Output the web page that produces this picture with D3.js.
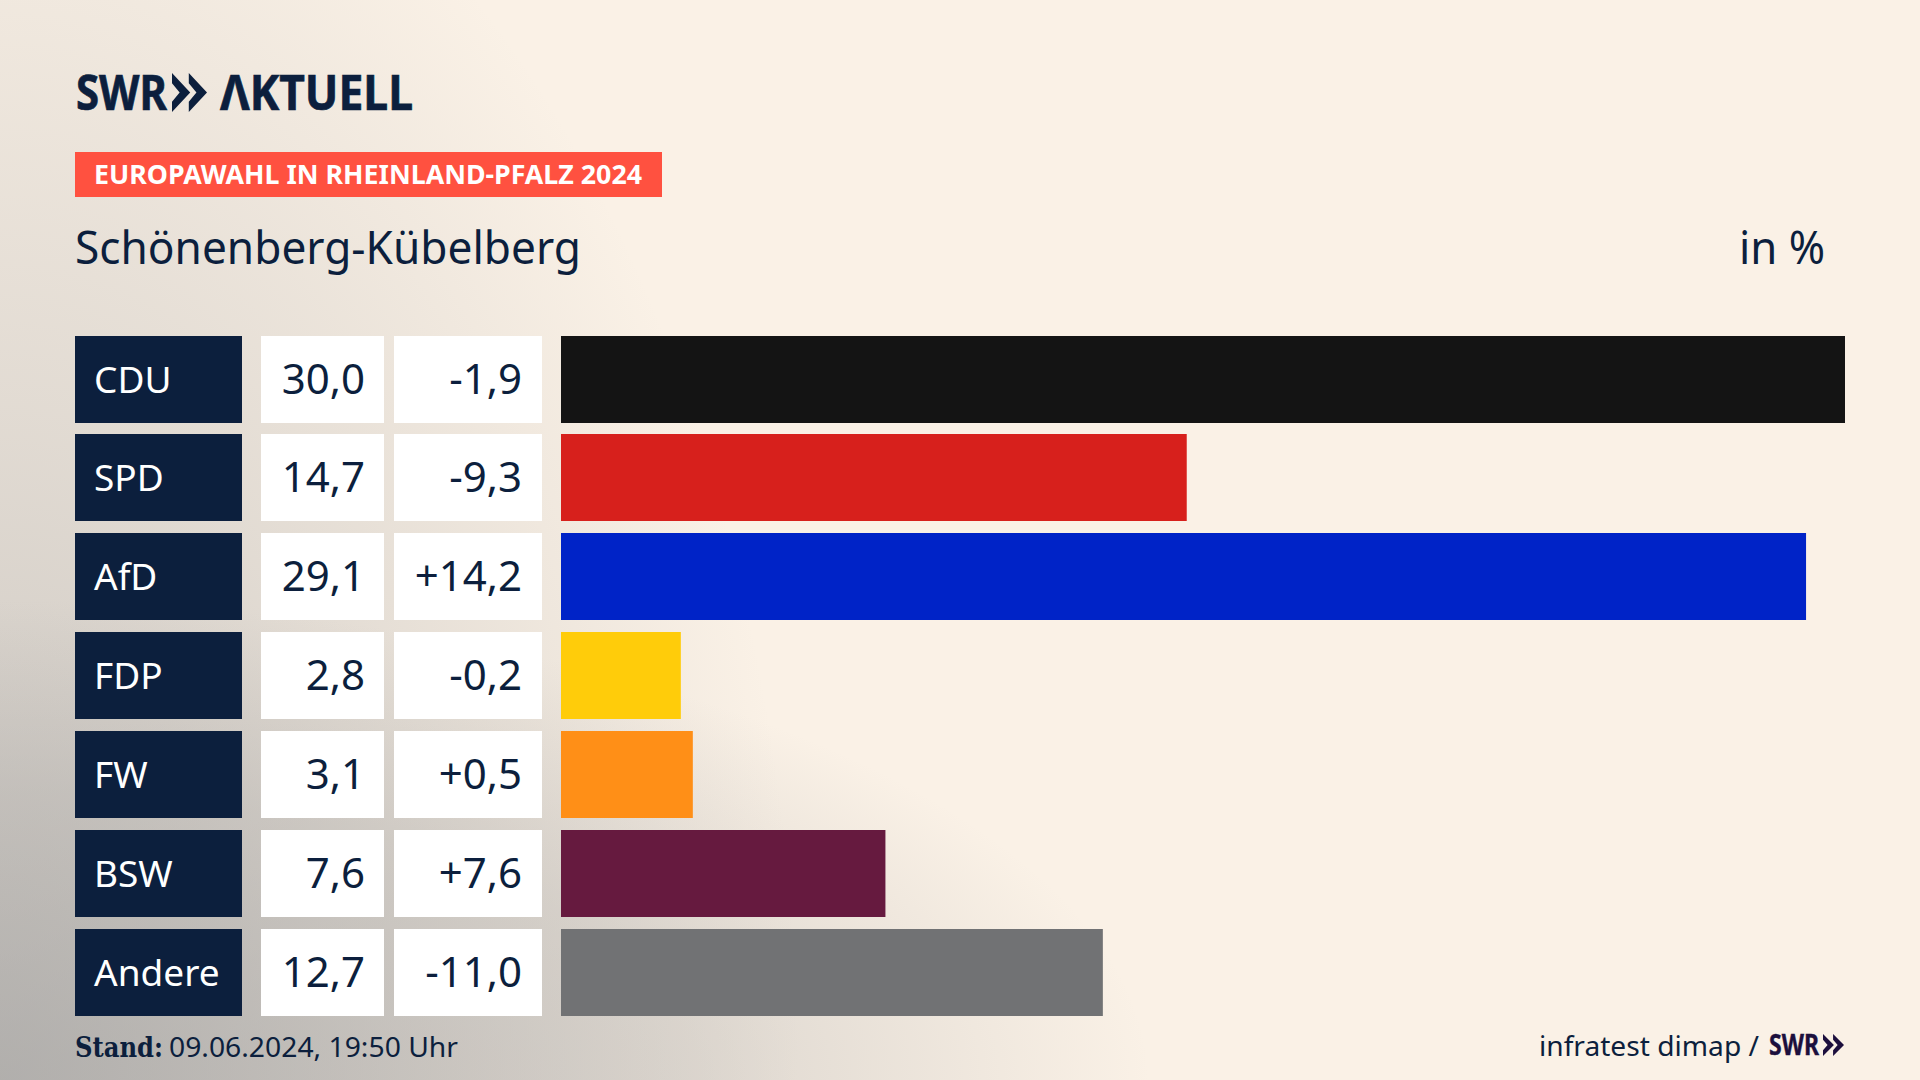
<!DOCTYPE html>
<html lang="de">
<head>
<meta charset="utf-8">
<title>Europawahl in Rheinland-Pfalz 2024</title>
<script src="https://cdn.jsdelivr.net/npm/d3@7"></script>
<style>
  html, body { margin: 0; padding: 0; background: #faf1e6; }
  svg { display: block; }
  text { font-family: "Noto Sans", sans-serif; fill: #0c1f3d; }
</style>
</head>
<body>
<svg id="chart" width="1920" height="1080"></svg>
<script>
const parties = ['CDU', 'SPD', 'AfD', 'FDP', 'FW', 'BSW', 'Andere'];
const shares = [30.0, 14.7, 29.1, 2.8, 3.1, 7.6, 12.7];
const changes = [-1.9, -9.3, 14.2, -0.2, 0.5, 7.6, -11.0];
// Bar lengths: unrounded, so a little off the printed labels
const barLengths = [30.0, 14.62, 29.09, 2.8, 3.08, 7.58, 12.66];
const partyColors = ['#141414', '#d7201c', '#0023c7', '#ffcc0a', '#ff8f17', '#661a3f', '#717274'];

const navy = '#0c1f3d';
const svg = d3.select('#chart');

// Background: cream, with grey fading in along the left edge and the bottom edge
const defs = svg.append('defs');
const addGlow = (id, rx, ry, stops) => {
    const glow = defs.append('radialGradient')
        .attr('id', id)
        .attr('gradientUnits', 'userSpaceOnUse')
        .attr('cx', 0).attr('cy', 0).attr('r', 1)
        .attr('gradientTransform', `translate(0,1080) scale(${rx},${ry})`);
    stops.forEach(([o, a]) => glow.append('stop')
        .attr('offset', o)
        .attr('stop-color', '#a4a3a2')
        .attr('stop-opacity', a));
};
addGlow('glowLeft', 800, 1350, [[0, 0.6], [0.5, 0.28], [1, 0]]);
addGlow('glowBottom', 1150, 480, [[0, 0.62], [0.6, 0.32], [1, 0]]);
svg.append('rect').attr('width', 1920).attr('height', 1080).attr('fill', '#faf1e6');
svg.append('rect').attr('width', 1920).attr('height', 1080).attr('fill', 'url(#glowLeft)');
svg.append('rect').attr('width', 1920).attr('height', 1080).attr('fill', 'url(#glowBottom)');

// Scales
const yScale = d3.scaleBand().domain(parties).range([336, 1016]).paddingInner(0.12);
const xScale = d3.scaleLinear().domain([0, 30]).range([561, 1845]);

const fmtShare = (v) => d3.format('.1f')(v).replace('.', ',').replace('−', '-');
const fmtChange = (v) => (v > 0 ? '+' : '') + fmtShare(v);

// Logo chevrons, scaled to the box they sit in
const chevrons = (g, x, y, w, h, color) => {
    const cw = w * 0.52;
    [0, w - cw].forEach((dx) => {
        const p = d3.path();
        p.moveTo(x + dx, y);
        p.lineTo(x + dx + cw, y + h / 2);
        p.lineTo(x + dx, y + h);
        p.lineTo(x + dx, y + h * 0.74);
        p.lineTo(x + dx + cw * 0.42, y + h / 2);
        p.lineTo(x + dx, y + h * 0.26);
        p.closePath();
        g.append('path').attr('d', p.toString()).attr('fill', color);
    });
};

// Header
const logoText = (g, str, x, y, len, size, color) => g.append('text')
    .attr('x', x).attr('y', y)
    .attr('textLength', len).attr('lengthAdjust', 'spacingAndGlyphs')
    .attr('font-size', size).attr('font-weight', 700)
    .attr('stroke', color).attr('stroke-width', size / 70)
    .style('fill', color)
    .text(str);

const header = svg.append('g');
logoText(header, 'SWR', 76, 109.5, 91, 48, navy);
chevrons(header, 172, 73, 35, 39, navy);
logoText(header, 'ΛKTUELL', 220, 109.5, 193, 48, navy);

header.append('rect').attr('x', 75).attr('y', 152).attr('width', 587).attr('height', 45).attr('fill', '#ff5140');
header.append('text').attr('x', 94).attr('y', 184)
    .attr('textLength', 548).attr('lengthAdjust', 'spacingAndGlyphs')
    .attr('font-size', 27).attr('font-weight', 700)
    .style('fill', '#fff')
    .text('EUROPAWAHL IN RHEINLAND-PFALZ 2024');

header.append('text').attr('x', 75).attr('y', 264)
    .attr('textLength', 506).attr('lengthAdjust', 'spacingAndGlyphs')
    .attr('font-size', 45)
    .text('Schönenberg-Kübelberg');
header.append('text').attr('x', 1739).attr('y', 264)
    .attr('textLength', 86).attr('lengthAdjust', 'spacingAndGlyphs')
    .attr('font-size', 45)
    .text('in %');

// Rows
const rows = svg.append('g').selectAll('g')
    .data(parties)
    .join('g')
    .attr('transform', (d) => `translate(0,${Math.floor(yScale(d))})`);
const bandH = Math.round(yScale.bandwidth());

rows.append('rect').attr('x', 75).attr('width', 167).attr('height', bandH).attr('fill', navy);
rows.append('rect').attr('x', 261).attr('width', 123).attr('height', bandH).attr('fill', '#fff');
rows.append('rect').attr('x', 394).attr('width', 148).attr('height', bandH).attr('fill', '#fff');

rows.append('rect')
    .attr('x', xScale(0))
    .attr('width', (d, i) => xScale(barLengths[i]) - xScale(0))
    .attr('height', bandH)
    .attr('fill', (d, i) => partyColors[i]);

rows.append('text').attr('x', 94).attr('y', 56.5)
    .attr('font-size', 37)
    .style('fill', '#fff')
    .text((d) => d);
rows.append('text').attr('x', 365).attr('y', 58)
    .attr('text-anchor', 'end').attr('font-size', 42)
    .text((d, i) => fmtShare(shares[i]));
rows.append('text').attr('x', 522).attr('y', 58)
    .attr('text-anchor', 'end').attr('font-size', 42)
    .text((d, i) => fmtChange(changes[i]));

// Footer
const footer = svg.append('g');
footer.append('text').attr('x', 75).attr('y', 1057)
    .attr('textLength', 88).attr('lengthAdjust', 'spacingAndGlyphs')
    .attr('font-size', 27).attr('font-weight', 700)
    .style('font-family', '"DejaVu Serif", serif')
    .text('Stand:');
footer.append('text').attr('x', 169).attr('y', 1057)
    .attr('textLength', 289).attr('lengthAdjust', 'spacingAndGlyphs')
    .attr('font-size', 28)
    .text('09.06.2024, 19:50 Uhr');
footer.append('text').attr('x', 1539).attr('y', 1056)
    .attr('textLength', 220).attr('lengthAdjust', 'spacingAndGlyphs')
    .attr('font-size', 28)
    .text('infratest dimap /');
logoText(footer, 'SWR', 1769, 1055, 50, 28, '#1c0f3d');
chevrons(footer, 1823, 1034, 21, 22, '#1c0f3d');
</script>
</body>
</html>
